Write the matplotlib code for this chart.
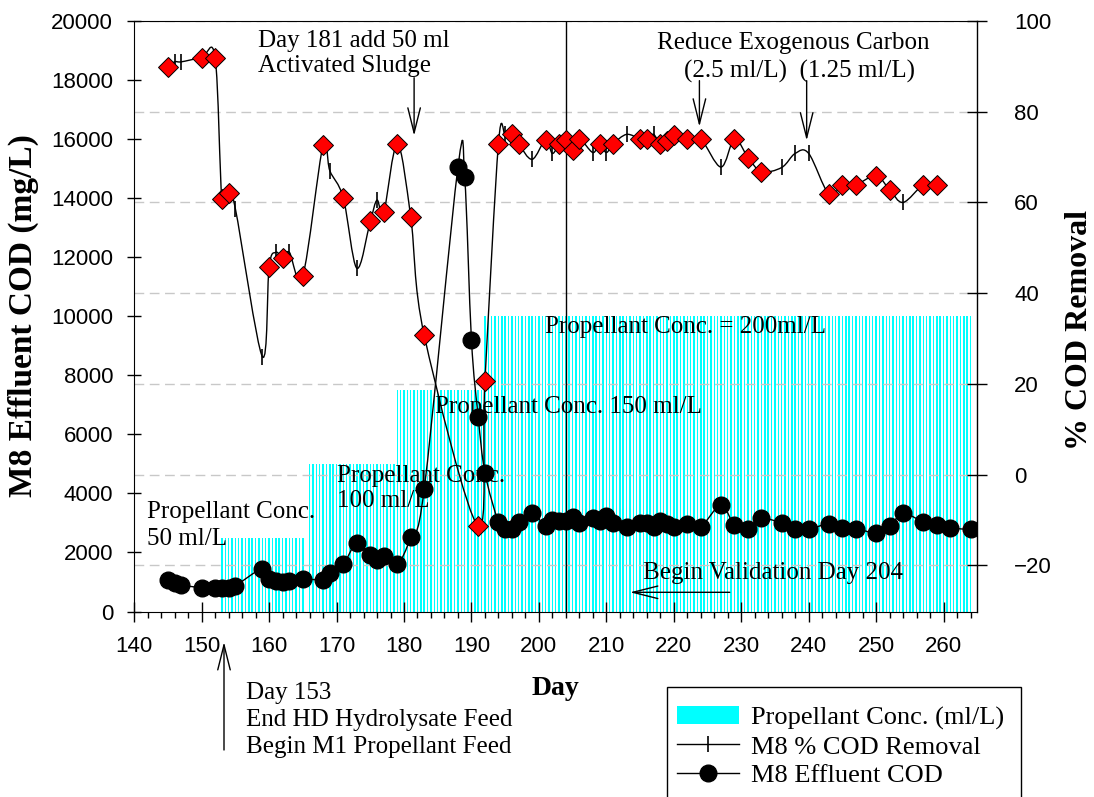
import numpy as np
import matplotlib
matplotlib.use("Agg")
import matplotlib.pyplot as plt
from matplotlib.path import Path
from matplotlib.patches import PathPatch, Patch, FancyArrowPatch, Rectangle
from matplotlib.lines import Line2D
from matplotlib.ticker import MultipleLocator

# ---------------- data ----------------
cod_days = [145, 146, 147, 150, 152, 153, 154, 155, 159, 160, 161, 162, 163, 165,
            168, 169, 171, 173, 175, 176, 177, 179, 181, 183, 188, 189, 190, 191, 192,
            194, 195, 196, 197, 199, 201, 202, 203, 204, 205, 206, 208, 209, 210, 211,
            213, 215, 216, 217, 218, 219, 220, 222, 224, 227, 229, 231, 233, 236, 238,
            240, 243, 245, 247, 250, 252, 254, 257, 259, 261, 264]
cod_values = [1050, 950, 900, 800, 780, 780, 780, 870, 1450, 1100, 1020, 1000, 1020, 1100,
              1080, 1300, 1600, 2320, 1920, 1730, 1870, 1600, 2520, 4150, 15050, 14700, 9200, 6600, 4700,
              3030, 2810, 2800, 3030, 3350, 2880, 3100, 3050, 3050, 3200, 3000, 3150, 3050, 3220, 3000,
              2870, 3000, 3000, 2870, 3080, 2950, 2860, 2950, 2870, 3600, 2920, 2810, 3150, 3000, 2810,
              2780, 2980, 2840, 2810, 2660, 2890, 3320, 3030, 2940, 2830, 2780]

removal_days = [145, 146, 147, 150, 152, 153, 154, 155, 159, 160, 161, 162, 163, 165,
                168, 169, 171, 173, 175, 176, 177, 179, 181, 183, 191, 192, 194, 195, 196,
                197, 199, 201, 202, 203, 204, 205, 206, 208, 209, 210, 211, 213, 215, 216,
                217, 218, 219, 220, 222, 224, 227, 229, 231, 233, 236, 238, 240, 243, 245,
                247, 250, 252, 254, 257, 259]
removal_values = [89.9, 91.0, 91.0, 91.9, 91.9, 60.8, 62.0, 58.6, 26.0, 45.8, 49.0, 47.8, 49.0, 43.8,
                  72.7, 67.0, 61.0, 45.5, 55.8, 60.5, 57.8, 72.9, 56.8, 30.7, -11.4, 20.6, 72.9, 75.0, 75.0,
                  72.9, 69.5, 73.8, 70.8, 72.9, 73.8, 71.5, 74.0, 71.0, 72.9, 71.0, 72.9, 75.0, 74.0, 74.0,
                  75.0, 72.9, 73.6, 74.9, 74.0, 74.0, 67.8, 74.0, 69.9, 66.8, 67.7, 70.8, 70.8, 61.8, 63.9,
                  63.9, 65.9, 62.8, 60.0, 63.9, 63.9]

diamond_days = [145, 150, 152, 153, 154, 160, 162, 165, 168, 171, 175, 177, 179, 181, 183,
                191, 192, 194, 196, 197, 201, 203, 204, 205, 206, 209, 211, 215, 216, 218,
                219, 220, 222, 224, 229, 231, 233, 243, 245, 247, 250, 252, 257, 259]
diamond_values = [89.9, 91.9, 91.9, 60.8, 62.0, 45.8, 47.8, 43.8, 72.7, 61.0, 55.8, 57.8, 72.9, 56.8, 30.7,
                  -11.4, 20.6, 72.9, 75.0, 72.9, 73.8, 72.9, 73.8, 71.5, 74.0, 72.9, 72.9, 74.0, 74.0, 72.9,
                  73.6, 74.9, 74.0, 74.0, 74.0, 69.9, 66.8, 61.8, 63.9, 63.9, 65.9, 62.8, 63.9, 63.9]

# propellant feed schedule: (first day, last day, concentration ml/L), fed in half-day steps
feed_start = [153.0, 166.0, 179.0, 192.0]
feed_end = [165.0, 178.5, 191.5, 264.0]
feed_conc = [50, 100, 150, 200]

bar_days, bar_conc = [], []
for s, e, c in zip(feed_start, feed_end, feed_conc):
    d = s
    while d <= e + 1e-9:
        bar_days.append(d)
        bar_conc.append(c)
        d += 0.5

# ---------------- helpers ----------------
def spline_path(x, y):
    """Uniform Catmull-Rom curve through the points, drawn as cubic Bezier segments."""
    P = np.column_stack([np.asarray(x, float), np.asarray(y, float)])
    n = len(P)
    verts = [tuple(P[0])]
    codes = [Path.MOVETO]
    for i in range(n - 1):
        p_prev = P[i - 1] if i > 0 else P[i]
        p_next = P[i + 2] if i + 2 < n else P[i + 1]
        t0 = (P[i + 1] - p_prev) / 2.0
        t1 = (p_next - P[i]) / 2.0
        verts += [tuple(P[i] + t0 / 3.0), tuple(P[i + 1] - t1 / 3.0), tuple(P[i + 1])]
        codes += [Path.CURVE4] * 3
    return Path(verts, codes)

SERIF = "Liberation Serif"
SANS = "Liberation Sans"
plt.rcParams["font.family"] = SANS

fig = plt.figure(figsize=(10.94, 7.97), dpi=100)
rect = [134.2 / 1094, 1 - 611.5 / 797, (977.3 - 134.2) / 1094, (611.5 - 21) / 797]

ax3 = fig.add_axes(rect)   # bars
ax2 = fig.add_axes(rect)   # % removal (right)
ax = fig.add_axes(rect)    # effluent COD (left)
ax3.set_zorder(1)
ax2.set_zorder(2)
ax.set_zorder(3)
ax2.patch.set_visible(False)
ax.patch.set_visible(False)

xlim = (140, 265)
for a in (ax, ax2, ax3):
    a.set_xlim(*xlim)

# bars
ax3.bar(bar_days, bar_conc, width=0.22, color="#00FFFF", linewidth=0)
ax3.set_ylim(0, 400)
ax3.axis("off")

# right axis: % COD removal
ax2.set_ylim(-30.2, 100)
ax2.yaxis.tick_right()
ax2.xaxis.set_visible(False)
for sp in ("left", "top", "bottom"):
    ax2.spines[sp].set_visible(False)
ax2.spines["right"].set_linewidth(1.0)
ax2.set_yticks([-20, 0, 20, 40, 60, 80, 100])
ax2.yaxis.grid(True, color="#c8c8c8", linestyle=(0, (7, 4)), linewidth=1.0)
ax2.set_axisbelow(True)
ax2.tick_params(axis="y", direction="inout", length=15, width=1, labelsize=16, pad=19)
for lbl in ax2.get_yticklabels():
    lbl.set_horizontalalignment("left")

ax2.add_patch(PathPatch(spline_path(removal_days, removal_values), fill=False,
                        edgecolor="black", linewidth=1.0, zorder=3))
ax2.plot(removal_days, removal_values, linestyle="none", marker="|", markersize=12,
         markeredgewidth=1.2, color="black", zorder=4)
ax2.plot(diamond_days, diamond_values, linestyle="none", marker="D", markersize=10,
         markerfacecolor="#FF0000", markeredgecolor="black", markeredgewidth=0.7, zorder=5)
ax2.axvline(204, color="black", linewidth=1.0, zorder=3)
ax2.set_ylabel("% COD Removal", fontsize=23, fontweight="bold", family=SERIF, rotation=90)
ax2.yaxis.set_label_coords(1.1385, 0.477)

# left axis: effluent COD
ax.set_ylim(0, 20000)
ax.spines["right"].set_visible(False)
ax.set_yticks(np.arange(0, 20001, 2000))
ax.xaxis.set_major_locator(MultipleLocator(10))
ax.xaxis.set_minor_locator(MultipleLocator(2))
ax.tick_params(axis="x", which="major", direction="inout", length=14, width=1, labelsize=16, pad=11)
ax.tick_params(axis="x", which="minor", direction="out", length=4.5, width=1)
ax.tick_params(axis="y", direction="inout", length=9.5, width=1, labelsize=16, pad=10.5)
ax.add_patch(PathPatch(spline_path(cod_days, cod_values), fill=False,
                       edgecolor="black", linewidth=1.0, zorder=3))
ax.plot(cod_days, cod_values, linestyle="none", marker="o", markersize=12,
        color="black", zorder=4)
ax.set_ylabel("M8 Effluent COD (mg/L)", fontsize=24, fontweight="bold", family=SERIF)
ax.yaxis.set_label_coords(-0.113, 0.502)
ax.set_xlabel("Day", fontsize=20, fontweight="bold", family=SERIF)
ax.xaxis.set_label_coords(0.4991, -0.1092)

# annotations (placed on the right-hand axes layer so markers draw above them)
tkw = dict(fontsize=18, family=SERIF, zorder=2, transform=ax.transData)
ax2.text(158.3, 18900, "Day 181 add 50 ml\nActivated Sludge", ha="left", va="center",
         linespacing=1.2, **tkw)
ax2.text(237.7, 19270, "Reduce Exogenous Carbon", ha="center", va="center", **tkw)
ax2.text(238.6, 18280, "(2.5 ml/L)  (1.25 ml/L)", ha="center", va="center", **tkw)
ax2.text(200.9, 9630, "Propellant Conc. = 200ml/L", ha="left", va="center", **tkw)
ax2.text(184.6, 6910, "Propellant Conc. 150 ml/L", ha="left", va="center", **tkw)
ax2.text(170.0, 4160, "Propellant Conc.\n100 ml/L", ha="left", va="center", linespacing=1.2, **tkw)
ax2.text(141.9, 2900, "Propellant Conc.\n50 ml/L", ha="left", va="center", linespacing=1.28, **tkw)
ax2.text(215.4, 1310, "Begin Validation Day 204", ha="left", va="center", **tkw)

akw = dict(arrowstyle="->,head_length=1.8,head_width=0.45", color="black", linewidth=1.0,
           shrinkA=0, shrinkB=0)
for (xt, yt, xh, yh) in [(181.5, 18080, 181.5, 16114),
                         (223.8, 17980, 223.8, 16420),
                         (239.7, 17980, 239.7, 15950),
                         (228.3, 650, 213.5, 650)]:
    ax2.annotate("", xy=(xh, yh), xytext=(xt, yt), xycoords=ax.transData,
                 textcoords=ax.transData, arrowprops=akw, zorder=2)

fig.text(246 / 1094, 1 - 720 / 797, "Day 153\nEnd HD Hydrolysate Feed\nBegin M1 Propellant Feed",
         ha="left", va="center", fontsize=18, family=SERIF, linespacing=1.3)
fig.add_artist(FancyArrowPatch(
    (224 / 1094, 1 - 750 / 797), (224 / 1094, 1 - 642 / 797), transform=fig.transFigure,
    arrowstyle="->,head_length=18,head_width=4.5", color="black", linewidth=1.0,
    shrinkA=0, shrinkB=0))

# legend (frame drawn separately; it runs off the bottom edge as in the original)
handles = [Patch(facecolor="#00FFFF", edgecolor="none"),
           Line2D([], [], color="black", linewidth=1.0, marker="|", markersize=12, markeredgewidth=1.2),
           Line2D([], [], color="black", linewidth=1.0, marker="o", markersize=12)]
labels = ["Propellant Conc. (ml/L)", "M8 % COD Removal", "M8 Effluent COD"]
leg = fig.legend(handles, labels, loc="upper left", bbox_to_anchor=(677 / 1094, 1 - 706 / 797),
                 prop={"family": SERIF, "size": 19}, frameon=False,
                 handlelength=2.35, handletextpad=0.45,
                 borderpad=0, labelspacing=0.2, borderaxespad=0)
fig.add_artist(Rectangle((667 / 1094, -0.02), (1021 - 667) / 1094, (797 - 687) / 797 + 0.02,
                         transform=fig.transFigure, fill=False, edgecolor="black", linewidth=1.0))

fig.savefig("out.png", dpi=100)
